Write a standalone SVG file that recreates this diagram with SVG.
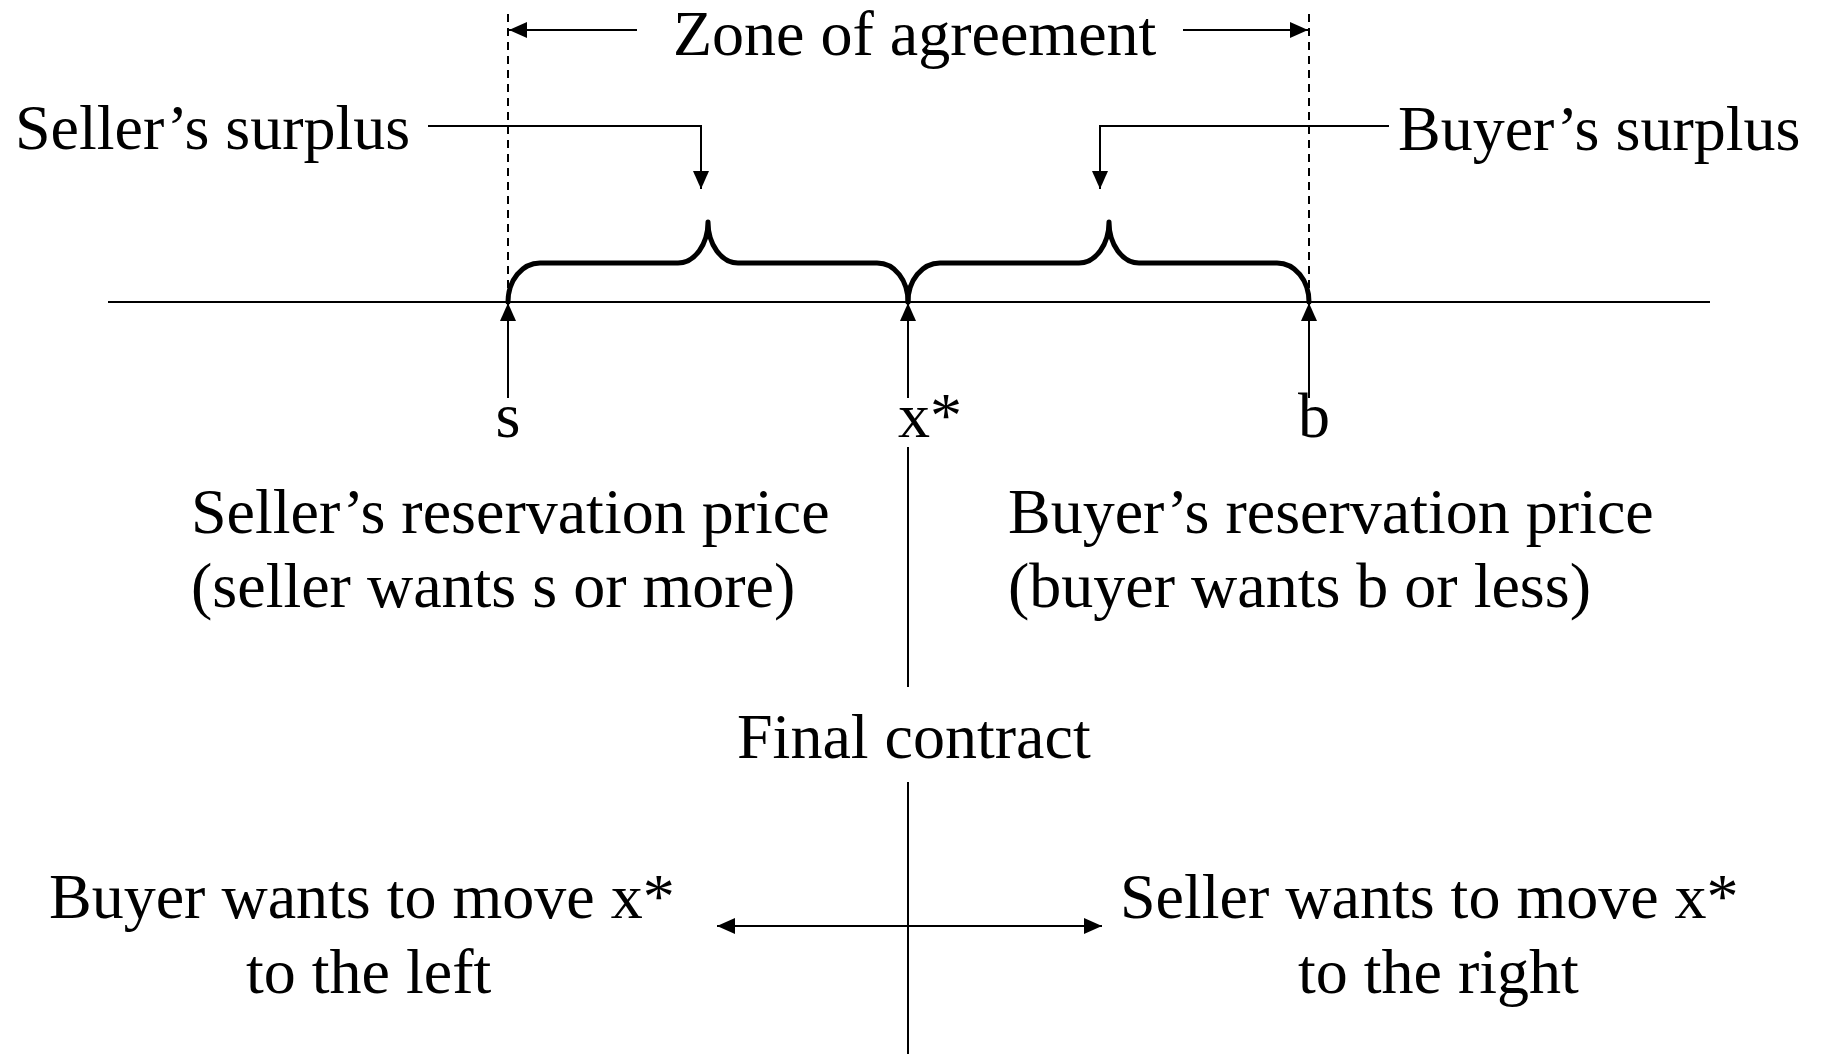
<svg xmlns="http://www.w3.org/2000/svg" width="1823" height="1054" viewBox="0 0 1823 1054">
  <style>
    .lbl { font-family: "Liberation Serif", "Times New Roman", serif; font-size: 64px; fill: #000; }
    .thin { stroke: #000; stroke-width: 2; fill: none; }
    .dash { stroke: #000; stroke-width: 2; fill: none; stroke-dasharray: 8 6; }
    .brace { stroke: #000; stroke-width: 5; fill: none; stroke-linecap: round; stroke-linejoin: round; }
  </style>
  <defs>
    <marker id="arrow" viewBox="0 0 18 16" refX="18" refY="8" markerWidth="18" markerHeight="16" markerUnits="userSpaceOnUse" orient="auto-start-reverse">
      <path d="M0,0 L18,8 L0,16 z" fill="#000"/>
    </marker>
  </defs>
  <rect width="1823" height="1054" fill="#fff"/>

  <!-- price axis, zone boundaries, braces and pointers -->
  <g id="connectors">
    <line class="thin" x1="108" y1="302" x2="1710" y2="302"/>
    <line class="dash" x1="508" y1="14" x2="508" y2="302"/>
    <line class="dash" x1="1309" y1="14" x2="1309" y2="302"/>

    <!-- zone of agreement extent -->
    <line class="thin" x1="637" y1="30" x2="509" y2="30" marker-end="url(#arrow)"/>
    <line class="thin" x1="1183" y1="30" x2="1308" y2="30" marker-end="url(#arrow)"/>

    <!-- surplus pointers -->
    <polyline class="thin" points="428,126 701,126 701,189" marker-end="url(#arrow)"/>
    <polyline class="thin" points="1389,126 1100,126 1100,189" marker-end="url(#arrow)"/>

    <!-- surplus braces -->
    <path class="brace" d="M508,302 C508,280.5 522,263 540,263 L678,263 C694.5,263 708,244.5 708,222 C708,244.5 721.5,263 738,263 L877,263 C895,263 908,280.5 908,302"/>
    <path class="brace" d="M908,302 C908,280.5 922,263 940,263 L1079,263 C1095.5,263 1109,244.5 1109,222 C1109,244.5 1122.5,263 1139,263 L1277,263 C1295,263 1309,280.5 1309,302"/>

    <!-- point markers up to the axis -->
    <line class="thin" x1="508" y1="398" x2="508" y2="303" marker-end="url(#arrow)"/>
    <line class="thin" x1="908" y1="398" x2="908" y2="303" marker-end="url(#arrow)"/>
    <line class="thin" x1="1309" y1="398" x2="1309" y2="303" marker-end="url(#arrow)"/>

    <!-- final contract stem and direction arrows -->
    <line class="thin" x1="908" y1="447" x2="908" y2="687"/>
    <line class="thin" x1="908" y1="782" x2="908" y2="1054"/>
    <line class="thin" x1="717" y1="926" x2="1102" y2="926" marker-start="url(#arrow)" marker-end="url(#arrow)"/>
  </g>

  <g id="zone-label"><text class="lbl" x="673" y="55">Zone of agreement</text></g>
  <g id="seller-surplus"><text class="lbl" x="15" y="149">Seller’s surplus</text></g>
  <g id="buyer-surplus"><text class="lbl" x="1398" y="150">Buyer’s surplus</text></g>

  <g id="point-s"><text class="lbl" x="508" y="437" text-anchor="middle">s</text></g>
  <g id="point-x"><text class="lbl" x="898" y="437">x*</text></g>
  <g id="point-b"><text class="lbl" x="1298" y="437">b</text></g>

  <g id="seller-reservation">
    <text class="lbl" x="191" y="533">Seller’s reservation price</text>
    <text class="lbl" x="191" y="607">(seller wants s or more)</text>
  </g>
  <g id="buyer-reservation">
    <text class="lbl" x="1008" y="533">Buyer’s reservation price</text>
    <text class="lbl" x="1008" y="607">(buyer wants b or less)</text>
  </g>

  <g id="final-contract"><text class="lbl" x="737" y="758">Final contract</text></g>

  <g id="buyer-move">
    <text class="lbl" x="49" y="918">Buyer wants to move x*</text>
    <text class="lbl" x="246" y="993">to the left</text>
  </g>
  <g id="seller-move">
    <text class="lbl" x="1120" y="918">Seller wants to move x*</text>
    <text class="lbl" x="1298" y="993">to the right</text>
  </g>
</svg>
